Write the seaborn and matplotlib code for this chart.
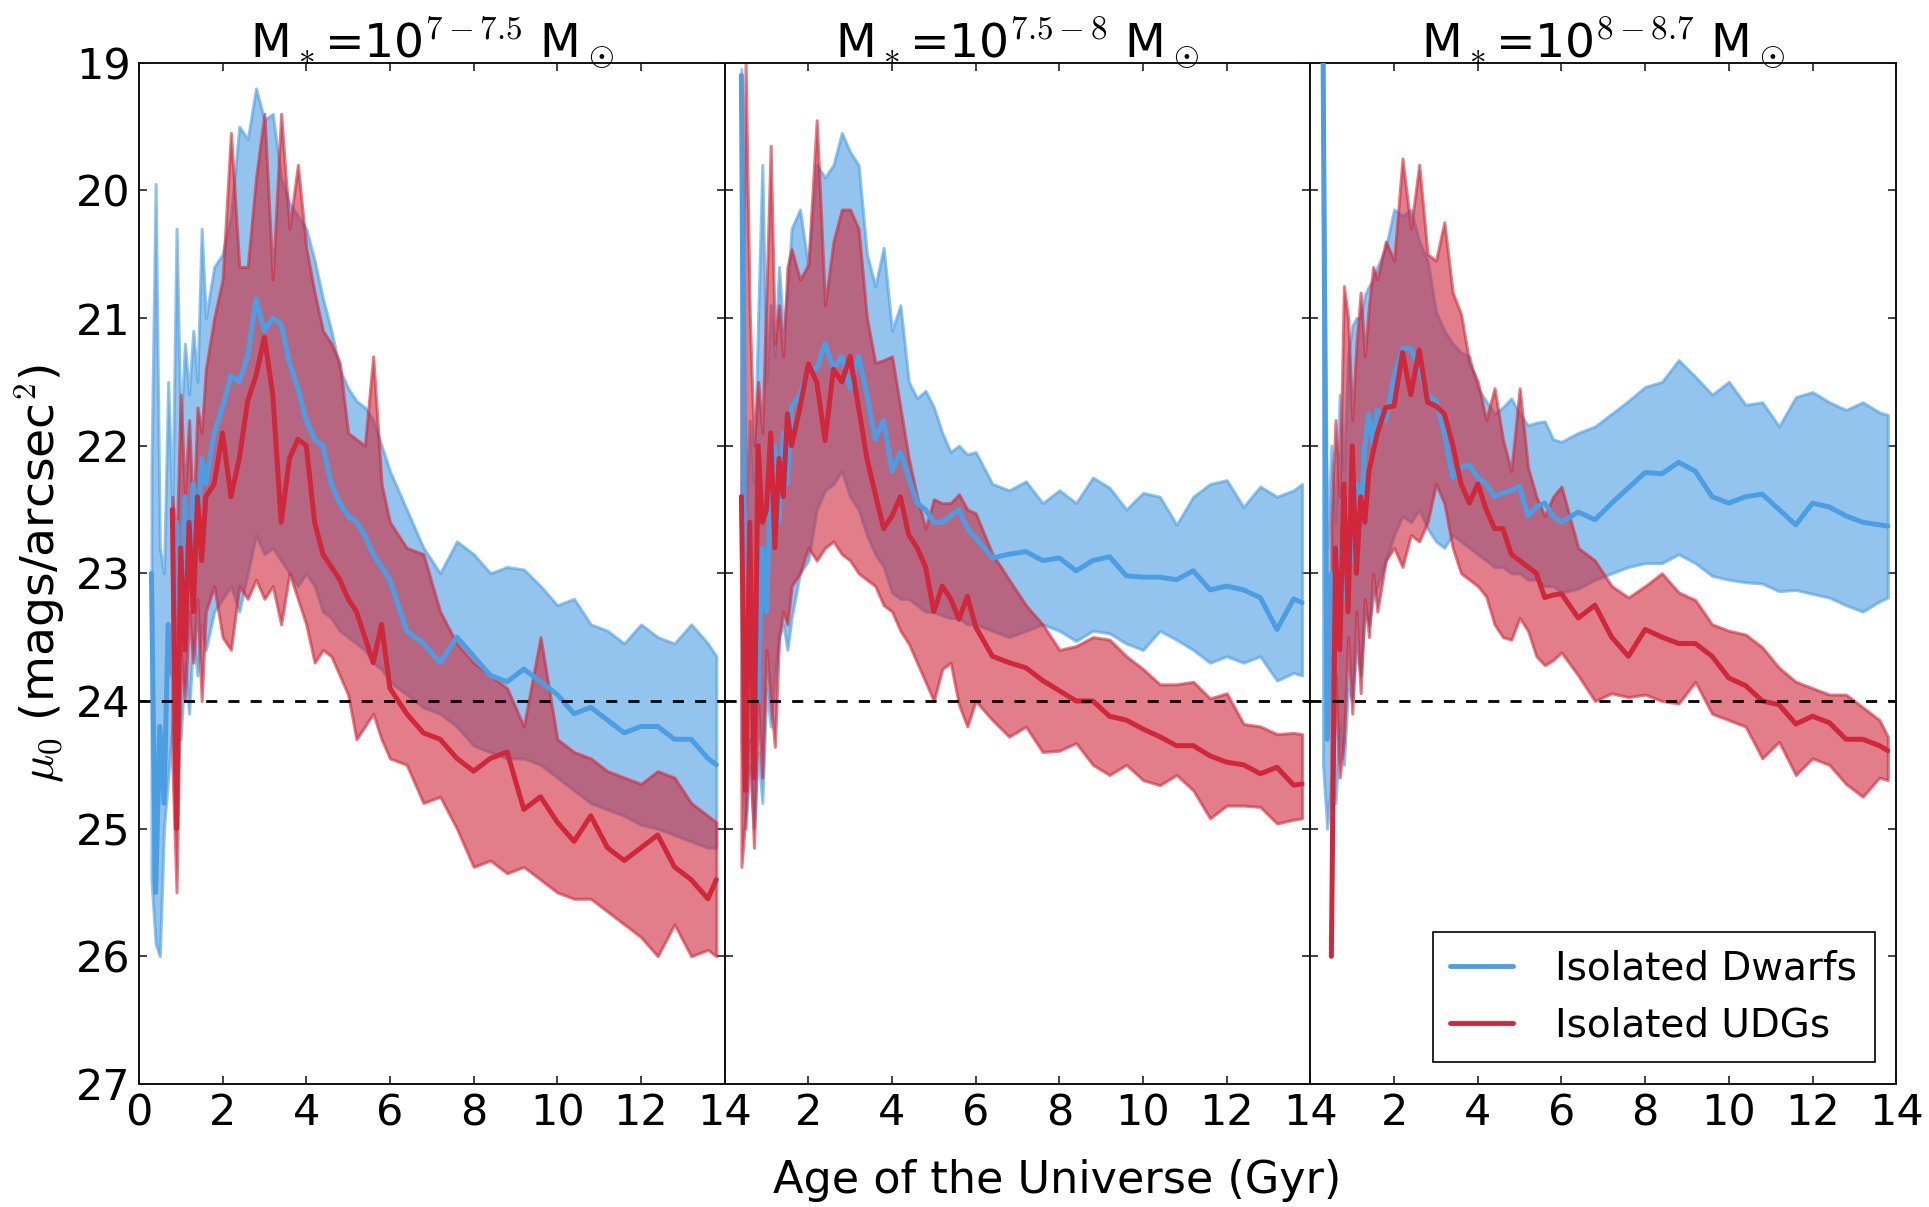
import numpy as np
import pandas as pd
import matplotlib
matplotlib.use("Agg")
import matplotlib.pyplot as plt
import seaborn as sns

nan = np.nan

# ---------------- data ----------------
T = [0.3, 0.4, 0.5, 0.6, 0.7, 0.8, 0.9, 1.0, 1.1, 1.2, 1.3, 1.4, 1.5, 1.6,
     1.8, 2.0, 2.2, 2.4, 2.6, 2.8, 3.0, 3.2, 3.4, 3.6, 3.8, 4.0, 4.2, 4.4, 4.6, 4.8,
     5.0, 5.2, 5.4, 5.6, 5.8, 6.0,
     6.4, 6.8, 7.2, 7.6, 8.0, 8.4, 8.8, 9.2, 9.6, 10.0, 10.4, 10.8, 11.2, 11.6,
     12.0, 12.4, 12.8, 13.2, 13.6, 13.8]

titles = [r"M$_*$=10$^{7-7.5}$ M$_\odot$",
          r"M$_*$=10$^{7.5-8}$ M$_\odot$",
          r"M$_*$=10$^{8-8.7}$ M$_\odot$"]
series_names = ["Isolated Dwarfs", "Isolated UDGs"]

# Panel 1 : Isolated dwarfs (median, upper=bright edge, lower=faint edge)
dw1_med = [23.0, 25.5, 24.2, 24.8, 23.4, 23.8, 22.6, 23.5, 22.4, 23.1, 22.3, 22.7, 22.1, 22.3,
           21.9, 21.7, 21.45, 21.5, 21.3, 20.85, 21.1, 21.0, 21.05, 21.35, 21.55, 21.8, 21.95, 22.0, 22.3, 22.45,
           22.55, 22.6, 22.7, 22.85, 22.95, 23.05,
           23.45, 23.55, 23.7, 23.5, 23.65, 23.8, 23.85, 23.75, 23.85, 23.95, 24.1, 24.05, 24.15, 24.25,
           24.2, 24.2, 24.3, 24.3, 24.45, 24.5]
dw1_hi = [22.2, 19.95, 22.8, 23.0, 21.5, 22.5, 20.3, 21.9, 21.2, 21.6, 21.1, 21.5, 20.3, 21.0,
          20.6, 20.5, 20.2, 19.5, 19.6, 19.2, 19.45, 19.4, 19.9, 20.1, 20.2, 20.3, 20.55, 20.85, 21.1, 21.4,
          21.55, 21.65, 21.7, 21.8, 22.0, 22.2,
          22.5, 22.8, 23.0, 22.75, 22.85, 23.0, 22.95, 22.97, 23.1, 23.25, 23.2, 23.4, 23.45, 23.55,
          23.4, 23.5, 23.55, 23.4, 23.55, 23.65]
dw1_lo = [25.4, 25.9, 26.0, 25.0, 24.6, 24.2, 23.9, 24.3, 23.7, 24.1, 23.5, 23.8, 23.4, 23.6,
          23.3, 23.2, 23.1, 23.3, 23.0, 22.7, 22.85, 22.8, 22.9, 23.0, 23.1, 23.0, 23.1, 23.3, 23.35, 23.45,
          23.5, 23.55, 23.6, 23.7, 23.75, 23.85,
          23.95, 24.05, 24.1, 24.2, 24.35, 24.4, 24.45, 24.45, 24.5, 24.6, 24.7, 24.8, 24.85, 24.9,
          24.97, 25.0, 25.05, 25.1, 25.15, 25.15]
# Panel 1 : Isolated UDGs
udg1_med = [nan, nan, nan, nan, nan, 22.5, 25.0, 22.8, 23.6, 22.6, 23.3, 22.4, 22.9, 22.4,
            22.3, 21.9, 22.4, 22.1, 21.65, 21.45, 21.15, 21.6, 22.6, 22.1, 21.95, 22.0, 22.6, 22.85, 22.95, 23.05,
            23.2, 23.3, 23.5, 23.7, 23.4, 23.9,
            24.1, 24.25, 24.3, 24.45, 24.55, 24.45, 24.4, 24.85, 24.75, 24.95, 25.1, 24.9, 25.15, 25.25,
            25.15, 25.05, 25.3, 25.4, 25.55, 25.4]
udg1_hi = [nan, nan, nan, nan, nan, 22.4, 22.8, 21.6, 22.4, 21.8, 22.6, 21.7, 21.9, 21.4,
           21.0, 20.7, 19.55, 20.6, 20.6, 19.9, 19.4, 20.7, 19.4, 20.3, 19.8, 20.45, 20.8, 21.1, 21.2, 21.35,
           21.9, 21.95, 22.0, 21.3, 22.3, 22.6,
           22.8, 22.85, 23.3, 23.55, 23.7, 23.8, 23.9, 24.2, 23.5, 24.3, 24.4, 24.45, 24.55, 24.6,
           24.65, 24.55, 24.6, 24.8, 24.9, 24.95]
udg1_lo = [nan, nan, nan, nan, nan, 24.5, 25.5, 23.6, 24.0, 23.3, 23.7, 23.2, 24.0, 23.3,
           23.1, 23.5, 23.6, 23.1, 23.2, 23.05, 23.2, 23.1, 23.4, 23.0, 23.2, 23.4, 23.7, 23.6, 23.65, 23.8,
           23.95, 24.3, 24.2, 24.1, 24.3, 24.45,
           24.5, 24.8, 24.75, 25.0, 25.3, 25.25, 25.35, 25.3, 25.4, 25.5, 25.55, 25.55, 25.65, 25.75,
           25.85, 26.0, 25.75, 26.0, 25.95, 26.0]

# Panel 2 : Isolated dwarfs
dw2_med = [nan, 19.1, 24.3, 23.0, 23.6, 24.0, 22.8, 23.3, 22.3, 22.0, 22.6, 21.9, 22.3, 21.7,
           21.6, 21.4, 21.4, 21.2, 21.4, 21.3, 21.55, 21.3, 21.6, 21.95, 21.8, 22.2, 22.05, 22.25, 22.45, 22.5,
           22.6, 22.6, 22.55, 22.5, 22.65, 22.72,
           22.88, 22.85, 22.83, 22.9, 22.88, 22.98, 22.9, 22.87, 23.02, 23.03, 23.03, 23.05, 22.98, 23.13,
           23.1, 23.13, 23.19, 23.44, 23.2, 23.23]
dw2_hi = [nan, 19.05, 22.5, 21.8, 22.3, 21.0, 19.8, 21.5, 20.9, 21.3, 20.6, 21.1, 20.8, 20.3,
          20.15, 20.6, 19.8, 19.9, 19.8, 19.55, 19.7, 19.8, 20.5, 20.75, 20.45, 21.1, 20.9, 21.5, 21.63, 21.57,
          21.7, 21.9, 22.05, 22.0, 22.07, 22.05,
          22.3, 22.35, 22.28, 22.45, 22.35, 22.45, 22.25, 22.33, 22.5, 22.37, 22.4, 22.62, 22.4, 22.3,
          22.27, 22.48, 22.32, 22.4, 22.35, 22.3]
dw2_lo = [nan, 24.3, 25.0, 24.5, 25.0, 24.4, 24.8, 23.9, 24.2, 23.8, 23.5, 23.4, 23.6, 23.35,
          23.0, 22.9, 22.5, 22.35, 22.3, 22.2, 22.4, 22.5, 22.7, 22.85, 22.95, 23.15, 23.2, 23.2, 23.25, 23.3,
          23.3, 23.33, 23.35, 23.35, 23.4, 23.4,
          23.45, 23.5, 23.45, 23.4, 23.45, 23.53, 23.45, 23.47, 23.55, 23.6, 23.45, 23.52, 23.6, 23.7,
          23.65, 23.7, 23.65, 23.84, 23.78, 23.8]
# Panel 2 : Isolated UDGs
udg2_med = [nan, 22.4, 24.7, 22.6, 24.6, 22.0, 22.6, 22.5, 21.9, 22.8, 22.1, 22.4, 21.75, 22.0,
            21.7, 21.36, 21.5, 21.96, 21.4, 21.5, 21.3, 21.7, 22.1, 22.38, 22.65, 22.55, 22.4, 22.7, 22.8, 22.95,
            23.3, 23.1, 23.2, 23.36, 23.18, 23.42,
            23.65, 23.7, 23.74, 23.84, 23.92, 24.0, 24.0, 24.12, 24.15, 24.22, 24.28, 24.35, 24.35, 24.43,
            24.48, 24.5, 24.57, 24.52, 24.66, 24.65]
udg2_hi = [nan, 21.5, 19.0, 20.97, 22.0, 21.5, 21.9, 20.8, 19.65, 21.2, 20.9, 21.3, 20.6, 20.46,
           20.7, 20.58, 19.45, 20.9, 20.4, 20.15, 20.15, 20.3, 21.0, 21.35, 21.33, 21.3, 21.7, 22.1, 22.4, 22.65,
           22.42, 22.45, 22.45, 22.38, 22.5, 22.53,
           22.85, 23.05, 23.25, 23.4, 23.6, 23.57, 23.5, 23.52, 23.65, 23.75, 23.87, 23.87, 23.85, 23.98,
           23.94, 24.18, 24.2, 24.26, 24.25, 24.26]
udg2_lo = [nan, 25.3, 24.9, 24.3, 25.15, 24.0, 24.6, 23.6, 24.0, 24.36, 23.5, 23.3, 23.4, 23.1,
           23.0, 22.8, 22.9, 22.8, 22.75, 22.85, 22.9, 23.0, 23.05, 23.1, 23.25, 23.3, 23.45, 23.55, 23.7, 23.85,
           24.0, 23.75, 23.7, 24.03, 24.2, 24.0,
           24.15, 24.28, 24.2, 24.4, 24.39, 24.33, 24.5, 24.58, 24.5, 24.62, 24.66, 24.58, 24.7, 24.92,
           24.82, 24.82, 24.83, 24.96, 24.93, 24.92]

# Panel 3 : Isolated dwarfs
dw3_med = [18.8, 24.3, 23.0, 23.5, 22.8, 23.2, 22.5, 22.9, 22.3, 22.6, 22.0, 21.75, 22.0, 21.72,
           21.8, 21.45, 21.24, 21.24, 21.4, 21.6, 21.65, 21.9, 22.25, 22.17, 22.15, 22.25, 22.3, 22.4, 22.37, 22.35,
           22.32, 22.55, 22.48, 22.45, 22.55, 22.6,
           22.52, 22.58, 22.45, 22.33, 22.21, 22.22, 22.13, 22.2, 22.4, 22.45, 22.4, 22.38, 22.5, 22.62,
           22.45, 22.48, 22.55, 22.6, 22.62, 22.63]
dw3_hi = [18.8, 22.8, 22.0, 22.6, 21.6, 22.2, 21.3, 21.06, 21.0, 21.0, 20.82, 20.75, 20.7, 20.6,
          20.45, 20.15, 20.2, 20.15, 20.4, 20.55, 20.95, 21.1, 21.2, 21.27, 21.3, 21.55, 21.65, 21.75, 21.7, 21.63,
          21.75, 21.84, 21.82, 21.81, 21.95, 21.97,
          21.9, 21.85, 21.75, 21.65, 21.54, 21.5, 21.33, 21.46, 21.6, 21.5, 21.68, 21.66, 21.85, 21.62,
          21.58, 21.66, 21.72, 21.66, 21.74, 21.76]
dw3_lo = [24.5, 25.0, 24.6, 24.8, 24.2, 24.5, 23.9, 24.0, 23.6, 23.8, 23.3, 23.4, 23.2, 23.1,
          22.9, 22.7, 22.55, 22.6, 22.5, 22.65, 22.75, 22.8, 22.7, 22.75, 22.8, 22.85, 22.9, 22.95, 22.95, 23.0,
          23.0, 23.05, 23.05, 23.1, 23.1, 23.15,
          23.12, 23.05, 23.0, 22.95, 22.92, 22.92, 22.85, 22.92, 23.02, 23.05, 23.07, 23.08, 23.14, 23.13,
          23.16, 23.19, 23.25, 23.3, 23.22, 23.19]
# Panel 3 : Isolated UDGs
udg3_med = [nan, nan, 26.0, 22.8, 23.6, 22.3, 23.3, 22.0, 23.0, 22.4, 22.6, 22.2, 22.05, 21.9,
            21.7, 21.69, 21.27, 21.6, 21.25, 21.66, 21.69, 21.75, 21.99, 22.3, 22.45, 22.3, 22.5, 22.65, 22.65, 22.85,
            22.9, 22.95, 23.0, 23.19, 23.17, 23.16,
            23.35, 23.25, 23.5, 23.65, 23.44, 23.5, 23.55, 23.55, 23.65, 23.82, 23.88, 24.0, 24.03, 24.18,
            24.12, 24.17, 24.3, 24.3, 24.35, 24.39]
udg3_hi = [nan, nan, 22.6, 21.8, 22.4, 20.75, 21.0, 21.8, 21.2, 20.8, 21.3, 20.9, 20.6, 20.7,
           20.4, 20.55, 19.75, 20.3, 19.8, 20.5, 20.55, 20.25, 20.8, 20.97, 21.35, 21.5, 21.8, 21.55, 21.95, 22.2,
           21.55, 22.17, 22.4, 22.55, 22.4, 22.32,
           22.8, 22.9, 23.1, 23.19, 23.1, 23.0, 23.15, 23.21, 23.4, 23.45, 23.48, 23.58, 23.74, 23.85,
           23.9, 23.95, 23.95, 24.05, 24.15, 24.28]
udg3_lo = [nan, nan, 25.17, 23.8, 24.6, 24.3, 23.5, 24.1, 23.3, 23.94, 23.2, 23.5, 23.0, 23.3,
           22.9, 22.8, 22.95, 22.7, 22.75, 22.6, 22.3, 22.45, 22.8, 23.0, 23.05, 23.1, 23.18, 23.4, 23.5, 23.52,
           23.35, 23.45, 23.65, 23.72, 23.68, 23.62,
           23.8, 24.0, 23.94, 23.97, 23.95, 24.0, 24.02, 23.85, 24.1, 24.15, 24.2, 24.45, 24.32, 24.58,
           24.45, 24.5, 24.65, 24.75, 24.6, 24.62]

y_ticks = [19, 20, 21, 22, 23, 24, 25, 26, 27]
x_ticks = [0, 2, 4, 6, 8, 10, 12, 14]
threshold = 24

panels = [
    (dw1_med, dw1_hi, dw1_lo, udg1_med, udg1_hi, udg1_lo),
    (dw2_med, dw2_hi, dw2_lo, udg2_med, udg2_hi, udg2_lo),
    (dw3_med, dw3_hi, dw3_lo, udg3_med, udg3_hi, udg3_lo),
]

# ---------------- style ----------------
sns.set_style("ticks")
plt.rcParams["font.family"] = ["DejaVu Sans"]
plt.rcParams["mathtext.fontset"] = "cm"
plt.rcParams["axes.linewidth"] = 1.4
plt.rcParams["axes.edgecolor"] = "#111111"
plt.rcParams["text.color"] = "black"
plt.rcParams["axes.labelcolor"] = "black"
plt.rcParams["xtick.color"] = "black"
plt.rcParams["ytick.color"] = "black"

BLUE = "#4C9EE3"
RED = "#D0283A"
FS_TICK = 31
FS_TITLE = 34
FS_LABEL = 32
FS_YLABEL = 34
FS_LEG = 28

fig, axes = plt.subplots(1, 3, figsize=(19.29, 12.07), dpi=100, sharey=True)
fig.subplots_adjust(left=0.072, right=0.983, top=0.948, bottom=0.102, wspace=0)

t = np.array(T)
for i, (ax, data) in enumerate(zip(axes, panels)):
    dm, dh, dl, um, uh, ul = [np.array(a, dtype=float) for a in data]
    ax.fill_between(t, dh, dl, color=BLUE, alpha=0.6, lw=2.2, zorder=1)
    ax.fill_between(t, uh, ul, color=RED, alpha=0.6, lw=2.2, zorder=2)
    df_d = pd.DataFrame({"t": t, "mu": dm}).dropna()
    df_u = pd.DataFrame({"t": t, "mu": um}).dropna()
    sns.lineplot(data=df_d, x="t", y="mu", ax=ax, color=BLUE, lw=3.6,
                 estimator=None, sort=False, legend=False, zorder=3)
    sns.lineplot(data=df_u, x="t", y="mu", ax=ax, color=RED, lw=3.6,
                 estimator=None, sort=False, legend=False, zorder=4)
    ax.axhline(threshold, color="black", ls="--", lw=2, dashes=(4, 4), zorder=5)

    ax.set_xlim(0, 14)
    ax.set_ylim(27, 19)
    ax.set_xticks(x_ticks)
    if i == 0:
        ax.set_xticklabels([str(v) for v in x_ticks])
    else:
        ax.set_xticklabels([""] + [str(v) for v in x_ticks[1:]])
    ax.set_yticks(y_ticks)
    ax.tick_params(axis="both", which="major", direction="in", top=True, right=True,
                   length=6, width=1.1, labelsize=FS_TICK, pad=6, color="#111111")
    ax.set_title(titles[i], fontsize=FS_TITLE, pad=4)
    ax.set_xlabel("")
    ax.set_ylabel("")

axes[0].set_ylabel(r"$\mu_0$ (mags/arcsec$^2$)", fontsize=FS_YLABEL, labelpad=6)
fig.text(0.548, 0.022, "Age of the Universe (Gyr)", fontsize=FS_LABEL, ha="center", va="center")

handles = [plt.Line2D([], [], color=BLUE, lw=3.5), plt.Line2D([], [], color=RED, lw=3.5)]
leg = axes[2].legend(handles, series_names, loc="lower right", fontsize=FS_LEG,
                     handlelength=1.6, handletextpad=1.1, borderpad=0.45,
                     fancybox=False, framealpha=1, edgecolor="black", borderaxespad=0.55)
leg.get_frame().set_linewidth(1.2)

fig.savefig("out.png", dpi=100)
